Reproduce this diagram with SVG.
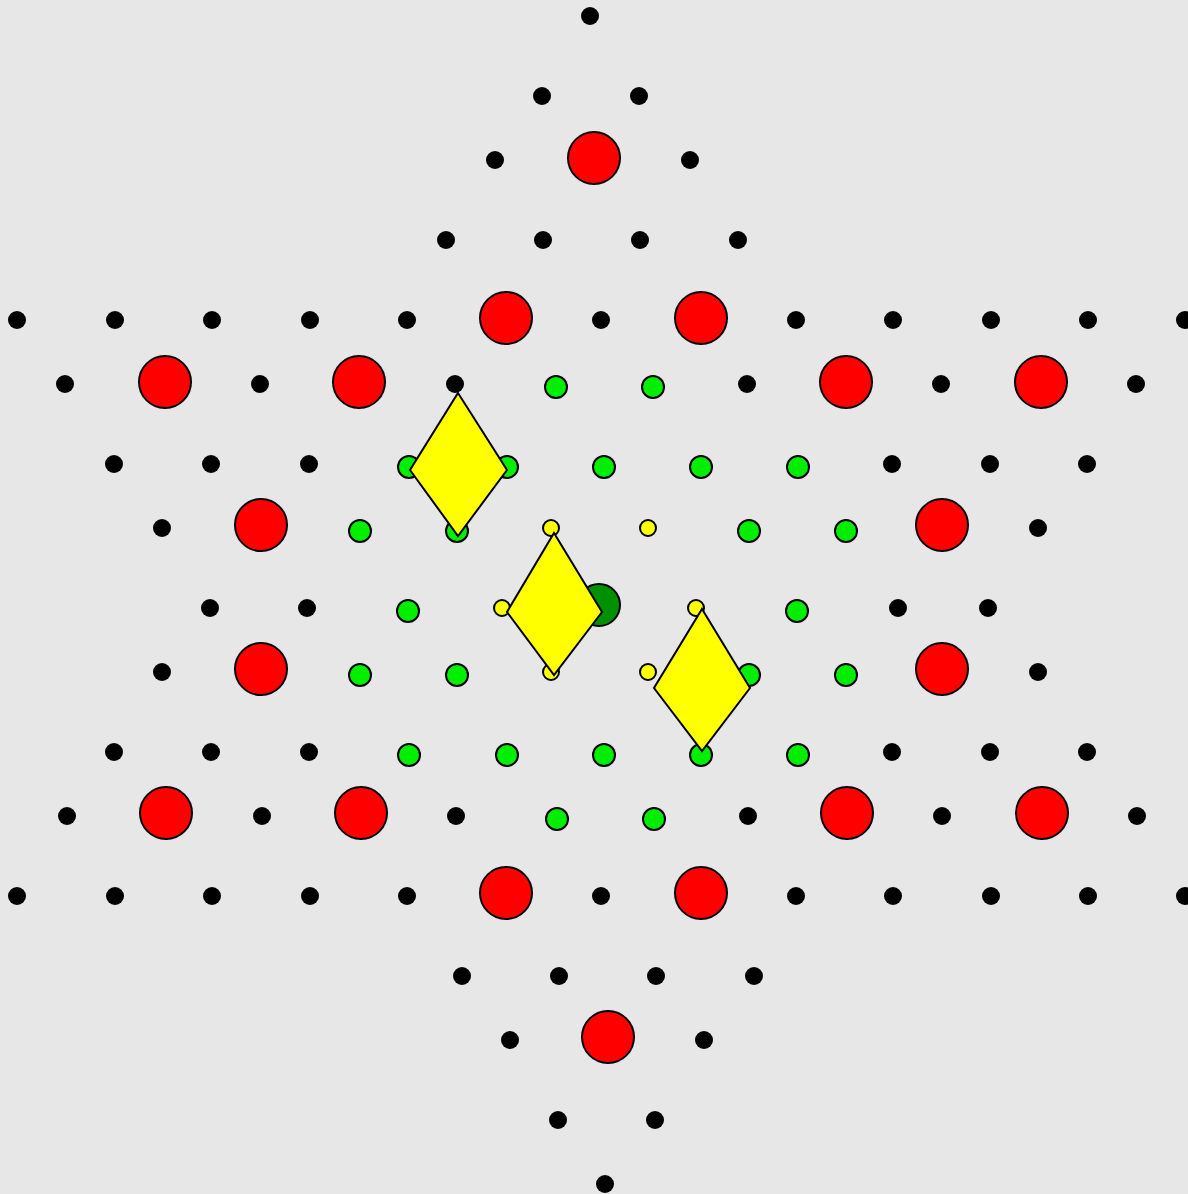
<svg xmlns="http://www.w3.org/2000/svg" width="1188" height="1194" viewBox="0 0 1188 1194">
<style>
.k{fill:#000}
.r{fill:#ff0000;stroke:#000;stroke-width:2}
.g{fill:#00ee00;stroke:#000;stroke-width:2}
.y{fill:#ffff00;stroke:#000;stroke-width:2}
.dg{fill:#009000;stroke:#000;stroke-width:2}
.d{fill:#ffff00;stroke:#000;stroke-width:2;stroke-linejoin:miter}
</style>
<rect width="1188" height="1194" fill="#e7e7e7"/>
<g id="black">
<circle class="k" cx="590" cy="16" r="9"/>
<circle class="k" cx="542" cy="96" r="9"/><circle class="k" cx="639" cy="96" r="9"/>
<circle class="k" cx="495" cy="160" r="9"/><circle class="k" cx="690" cy="160" r="9"/>
<circle class="k" cx="446" cy="240" r="9"/><circle class="k" cx="543" cy="240" r="9"/><circle class="k" cx="640" cy="240" r="9"/><circle class="k" cx="738" cy="240" r="9"/>
<circle class="k" cx="17" cy="320" r="9"/><circle class="k" cx="115" cy="320" r="9"/><circle class="k" cx="212" cy="320" r="9"/><circle class="k" cx="310" cy="320" r="9"/><circle class="k" cx="407" cy="320" r="9"/><circle class="k" cx="601" cy="320" r="9"/><circle class="k" cx="796" cy="320" r="9"/><circle class="k" cx="893" cy="320" r="9"/><circle class="k" cx="991" cy="320" r="9"/><circle class="k" cx="1088" cy="320" r="9"/><circle class="k" cx="1185" cy="320" r="9"/>
<circle class="k" cx="65" cy="384" r="9"/><circle class="k" cx="260" cy="384" r="9"/><circle class="k" cx="455" cy="384" r="9"/><circle class="k" cx="747" cy="384" r="9"/><circle class="k" cx="941" cy="384" r="9"/><circle class="k" cx="1136" cy="384" r="9"/>
<circle class="k" cx="114" cy="464" r="9"/><circle class="k" cx="211" cy="464" r="9"/><circle class="k" cx="309" cy="464" r="9"/><circle class="k" cx="892" cy="464" r="9"/><circle class="k" cx="990" cy="464" r="9"/><circle class="k" cx="1087" cy="464" r="9"/>
<circle class="k" cx="162" cy="528" r="9"/><circle class="k" cx="1038" cy="528" r="9"/>
<circle class="k" cx="210" cy="608" r="9"/><circle class="k" cx="307" cy="608" r="9"/><circle class="k" cx="898" cy="608" r="9"/><circle class="k" cx="988" cy="608" r="9"/>
<circle class="k" cx="162" cy="672" r="9"/><circle class="k" cx="1038" cy="672" r="9"/>
<circle class="k" cx="114" cy="752" r="9"/><circle class="k" cx="211" cy="752" r="9"/><circle class="k" cx="309" cy="752" r="9"/><circle class="k" cx="892" cy="752" r="9"/><circle class="k" cx="990" cy="752" r="9"/><circle class="k" cx="1087" cy="752" r="9"/>
<circle class="k" cx="67" cy="816" r="9"/><circle class="k" cx="262" cy="816" r="9"/><circle class="k" cx="456" cy="816" r="9"/><circle class="k" cx="748" cy="816" r="9"/><circle class="k" cx="942" cy="816" r="9"/><circle class="k" cx="1137" cy="816" r="9"/>
<circle class="k" cx="17" cy="896" r="9"/><circle class="k" cx="115" cy="896" r="9"/><circle class="k" cx="212" cy="896" r="9"/><circle class="k" cx="310" cy="896" r="9"/><circle class="k" cx="407" cy="896" r="9"/><circle class="k" cx="601" cy="896" r="9"/><circle class="k" cx="796" cy="896" r="9"/><circle class="k" cx="893" cy="896" r="9"/><circle class="k" cx="991" cy="896" r="9"/><circle class="k" cx="1088" cy="896" r="9"/><circle class="k" cx="1185" cy="896" r="9"/>
<circle class="k" cx="462" cy="976" r="9"/><circle class="k" cx="559" cy="976" r="9"/><circle class="k" cx="656" cy="976" r="9"/><circle class="k" cx="754" cy="976" r="9"/>
<circle class="k" cx="510" cy="1040" r="9"/><circle class="k" cx="704" cy="1040" r="9"/>
<circle class="k" cx="558" cy="1120" r="9"/><circle class="k" cx="655" cy="1120" r="9"/>
<circle class="k" cx="605" cy="1184" r="9"/>
</g>
<g id="red">
<circle class="r" cx="594" cy="158" r="26"/>
<circle class="r" cx="506" cy="318" r="26"/><circle class="r" cx="701" cy="318" r="26"/>
<circle class="r" cx="165" cy="382" r="26"/><circle class="r" cx="359" cy="382" r="26"/><circle class="r" cx="846" cy="382" r="26"/><circle class="r" cx="1041" cy="382" r="26"/>
<circle class="r" cx="261" cy="525" r="26"/><circle class="r" cx="942" cy="525" r="26"/>
<circle class="r" cx="261" cy="669" r="26"/><circle class="r" cx="942" cy="669" r="26"/>
<circle class="r" cx="166" cy="813" r="26"/><circle class="r" cx="361" cy="813" r="26"/><circle class="r" cx="847" cy="813" r="26"/><circle class="r" cx="1042" cy="813" r="26"/>
<circle class="r" cx="506" cy="893" r="26"/><circle class="r" cx="701" cy="893" r="26"/>
<circle class="r" cx="608" cy="1037" r="26"/>
</g>
<g id="green">
<circle class="g" cx="556" cy="387" r="11"/><circle class="g" cx="653" cy="387" r="11"/>
<circle class="g" cx="409" cy="467" r="11"/><circle class="g" cx="507" cy="467" r="11"/><circle class="g" cx="604" cy="467" r="11"/><circle class="g" cx="701" cy="467" r="11"/><circle class="g" cx="798" cy="467" r="11"/>
<circle class="g" cx="360" cy="531" r="11"/><circle class="g" cx="457" cy="531" r="11"/><circle class="g" cx="749" cy="531" r="11"/><circle class="g" cx="846" cy="531" r="11"/>
<circle class="g" cx="408" cy="611" r="11"/><circle class="g" cx="797" cy="611" r="11"/>
<circle class="g" cx="360" cy="675" r="11"/><circle class="g" cx="457" cy="675" r="11"/><circle class="g" cx="749" cy="675" r="11"/><circle class="g" cx="846" cy="675" r="11"/>
<circle class="g" cx="409" cy="755" r="11"/><circle class="g" cx="507" cy="755" r="11"/><circle class="g" cx="604" cy="755" r="11"/><circle class="g" cx="701" cy="755" r="11"/><circle class="g" cx="798" cy="755" r="11"/>
<circle class="g" cx="557" cy="819" r="11"/><circle class="g" cx="654" cy="819" r="11"/>
</g>
<g id="yellow">
<circle class="y" cx="551" cy="528" r="8"/><circle class="y" cx="648" cy="528" r="8"/>
<circle class="y" cx="502" cy="608" r="8"/><circle class="y" cx="696" cy="608" r="8"/>
<circle class="y" cx="551" cy="672" r="8"/><circle class="y" cx="648" cy="672" r="8"/>
</g>
<g id="center">
<circle class="dg" cx="599" cy="605" r="21"/>
</g>
<g id="diamonds">
<polygon id="diamond1" class="d" points="458,393 507,470 458,536 410,470"/>
<polygon id="diamond2" class="d" points="554,533 602,612 554,675 507,612"/>
<polygon id="diamond3" class="d" points="702,609 750,688 702,751 654,688"/>
</g>
</svg>
